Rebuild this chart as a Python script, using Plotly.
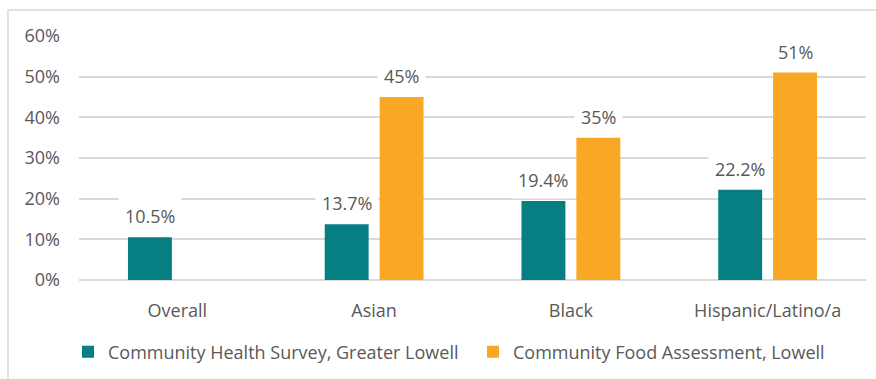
import plotly.graph_objects as go

# Data
categories = ["Overall", "Asian", "Black", "Hispanic/Latino/a"]
health_survey = [0.105, 0.137, 0.194, 0.222]
food_assessment = [None, 0.45, 0.35, 0.51]
series_names = ["Community Health Survey, Greater Lowell",
                "Community Food Assessment, Lowell"]
y_ticks = [0, 0.1, 0.2, 0.3, 0.4, 0.5, 0.6]
y_tick_labels = ["0%", "10%", "20%", "30%", "40%", "50%", "60%"]

TEAL = "#057F82"
ORANGE = "#F9A825"
TEXT = "#595959"
GRID = "#D9D9D9"
FONT = "Open Sans"
FS = 18

W, H = 876, 379
ML, MR, MT, MB = 79, 10, 36, 99
PW, PH = W - ML - MR, H - MT - MB


def px_x(px):
    """Convert a horizontal pixel position to paper coordinates."""
    return (px - ML) / PW


def px_y(py):
    """Convert a vertical pixel position (from the top) to paper coordinates."""
    return (H - MB - py) / PH


fig = go.Figure()
fig.add_trace(go.Bar(x=categories, y=health_survey, name=series_names[0],
                     marker=dict(color=TEAL, line=dict(width=0)),
                     legend="legend"))
fig.add_trace(go.Bar(x=categories, y=food_assessment, name=series_names[1],
                     marker=dict(color=ORANGE, line=dict(width=0)),
                     legend="legend2"))

# Data labels with a white box, sitting above each bar
annotations = []
for series, fmt, shift in [(health_survey, "{:.1%}", -27.5),
                           (food_assessment, "{:.0%}", 27.5)]:
    for cat, v in zip(categories, series):
        if v is None:
            continue
        annotations.append(dict(
            x=cat, y=v, xref="x", yref="y", text=fmt.format(v),
            showarrow=False, xshift=shift, yshift=21, yanchor="middle",
            font=dict(family=FONT, size=FS, color=TEXT),
            bgcolor="white", borderpad=6,
        ))

# Outer chart frame (extends past the right and bottom edges)
frame = dict(type="rect", xref="paper", yref="paper",
             x0=px_x(8), x1=px_x(W + 6), y0=px_y(H + 6), y1=px_y(10),
             line=dict(color=GRID, width=1.5), fillcolor="rgba(0,0,0,0)",
             layer="below")

legend_common = dict(orientation="h", xanchor="left", yanchor="middle",
                     y=px_y(352), font=dict(family=FONT, size=FS, color=TEXT),
                     bgcolor="rgba(0,0,0,0)", borderwidth=0,
                     itemclick=False, itemdoubleclick=False)

fig.update_layout(
    width=W, height=H,
    margin=dict(l=ML, r=MR, t=MT, b=MB, autoexpand=False),
    paper_bgcolor="white", plot_bgcolor="white",
    barmode="group", bargap=0.442, bargroupgap=0.2,
    font=dict(family=FONT, size=FS, color=TEXT),
    annotations=annotations,
    shapes=[frame],
    showlegend=True,
    legend=dict(x=px_x(68), **legend_common),
    legend2=dict(x=px_x(473), **legend_common),
    xaxis=dict(showgrid=False, showline=False, zeroline=False, ticks="",
               ticklabelstandoff=18, tickfont=dict(size=FS, color=TEXT)),
    yaxis=dict(range=[0, 0.6], tickvals=y_ticks, ticktext=y_tick_labels,
               showgrid=True, gridcolor=GRID, gridwidth=1.5,
               zeroline=True, zerolinecolor=GRID, zerolinewidth=1.5,
               showline=False, ticks="", ticklabelstandoff=18,
               tickfont=dict(size=FS, color=TEXT)),
)

fig.write_html("out.html")
